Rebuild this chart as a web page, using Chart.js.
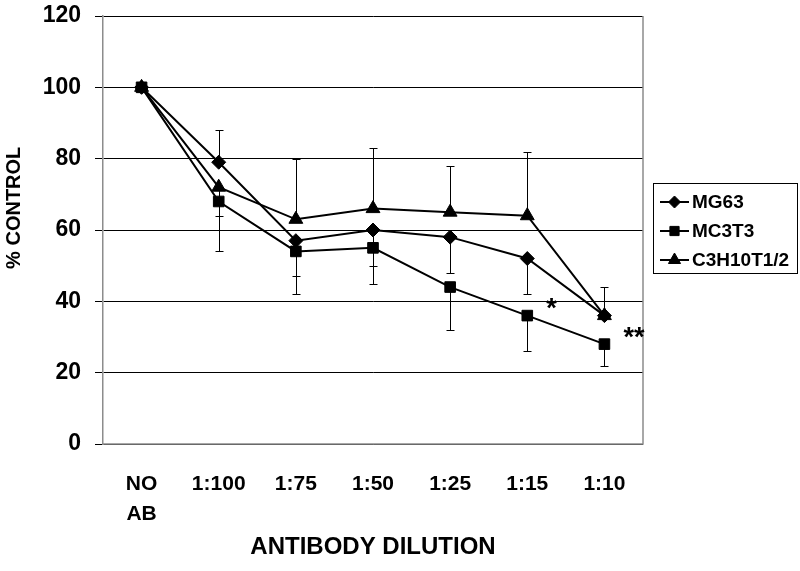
<!DOCTYPE html>
<html lang="en">
<head>
    <meta charset="UTF-8">
    <title>% Control vs Antibody Dilution</title>
    <script src="https://cdn.jsdelivr.net/npm/chart.js@4"></script>
    <style>
        html, body { margin: 0; padding: 0; background: #fff; }
        #wrap { width: 800px; height: 571px; }
    </style>
</head>
<body>
    <div id="wrap"><canvas id="myChart" width="800" height="571"></canvas></div>
    <script>
        const FONT = '"Liberation Sans", Arial, sans-serif';

        // data
        const dilutions = [['NO', 'AB'], '1:100', '1:75', '1:50', '1:25', '1:15', '1:10'];
        const seriesNames = ['MG63', 'MC3T3', 'C3H10T1/2'];
        const mg63 = [100, 79, 57, 60, 58, 52, 36];
        const mc3t3 = [100, 68, 54, 55, 44, 36, 28];
        const c3h10 = [100, 72, 63, 66, 65, 64, 36];
        // end of each error bar (value), one direction only as drawn
        const mg63Err = [null, 88, 47, 50, 48, 42, null];
        const mc3t3Err = [null, 54, 42, 45, 32, 26, 22];
        const c3h10Err = [null, 64, 80, 83, 78, 82, 44];
        const yTicks = [0, 20, 40, 60, 80, 100, 120];
        // significance marks: [category index, text] next to MC3T3 point
        const marks = [[5, '*'], [6, '**']];

        const ctx = document.getElementById('myChart').getContext('2d');

        function ds(label, data, err, shape, radius) {
            return {
                label: label,
                data: data,
                errEnd: err,
                borderColor: '#000',
                backgroundColor: '#000',
                borderWidth: 2,
                pointStyle: shape,
                pointRadius: radius,
                pointHoverRadius: radius,
                pointBorderWidth: 1,
                tension: 0
            };
        }

        // error bars behind the lines
        const errorBars = {
            id: 'errorBars',
            beforeDatasetsDraw(chart) {
                const c = chart.ctx, xs = chart.scales.x, ys = chart.scales.y;
                c.save();
                c.strokeStyle = '#000';
                c.lineWidth = 1;
                chart.data.datasets.forEach(d => {
                    d.errEnd.forEach((e, i) => {
                        if (e === null) return;
                        const x = Math.round(xs.getPixelForValue(i)) + 0.5;
                        const y0 = ys.getPixelForValue(d.data[i]);
                        const y1 = Math.round(ys.getPixelForValue(e)) + 0.5;
                        c.beginPath();
                        c.moveTo(x, y0); c.lineTo(x, y1);
                        c.moveTo(x - 4, y1); c.lineTo(x + 4, y1);
                        c.stroke();
                    });
                });
                c.restore();
            },
            afterDatasetsDraw(chart) {
                const c = chart.ctx, xs = chart.scales.x, ys = chart.scales.y;
                const a = chart.chartArea;
                c.save();
                // plot area frame (right + bottom)
                c.strokeStyle = '#8c8c8c';
                c.lineWidth = 1.5;
                c.beginPath();
                c.moveTo(a.right, a.top); c.lineTo(a.right, a.bottom); c.lineTo(a.left, a.bottom);
                c.stroke();
                // asterisks
                c.fillStyle = '#000';
                c.font = 'bold 27px ' + FONT;
                c.textBaseline = 'middle';
                marks.forEach(([i, t]) => {
                    const x = xs.getPixelForValue(i) + 19;
                    const y = ys.getPixelForValue(mc3t3[i]) - 6;
                    c.fillText(t, x, y);
                });
                c.restore();
            }
        };

        // legend box drawn by hand to get line+marker samples
        const boxLegend = {
            id: 'boxLegend',
            afterDraw(chart) {
                const c = chart.ctx;
                const bx = 653.5, by = 183.5, bw = 144, bh = 90;
                c.save();
                c.fillStyle = '#fff';
                c.fillRect(bx, by, bw, bh);
                c.strokeStyle = '#000';
                c.lineWidth = 1;
                c.strokeRect(bx, by, bw, bh);
                chart.data.datasets.forEach((d, k) => {
                    const y = 202 + k * 29;
                    c.strokeStyle = '#000';
                    c.fillStyle = '#000';
                    c.lineWidth = 2;
                    c.beginPath();
                    c.moveTo(660, y); c.lineTo(689, y);
                    c.stroke();
                    c.lineWidth = 1;
                    Chart.helpers.drawPoint(c, {
                        pointStyle: d.pointStyle, radius: d.pointRadius - 1,
                        borderWidth: 1
                    }, 674.5, y);
                    c.font = 'bold 19px ' + FONT;
                    c.textBaseline = 'middle';
                    c.fillText(d.label, 692, y + 1);
                });
                c.restore();
            }
        };

        Chart.defaults.font.family = FONT;
        Chart.defaults.color = '#000';

        new Chart(ctx, {
            type: 'line',
            data: {
                labels: dilutions,
                datasets: [
                    ds(seriesNames[0], mg63, mg63Err, 'rectRot', 7),
                    ds(seriesNames[1], mc3t3, mc3t3Err, 'rect', 7.5),
                    ds(seriesNames[2], c3h10, c3h10Err, 'triangle', 8)
                ]
            },
            options: {
                responsive: false,
                animation: false,
                layout: { padding: { left: 0, right: 157, top: 16, bottom: 0 } },
                plugins: {
                    legend: { display: false },
                    tooltip: { enabled: false }
                },
                scales: {
                    x: {
                        type: 'category',
                        offset: true,
                        grid: { display: false, drawTicks: false },
                        border: { display: false },
                        ticks: {
                            font: { size: 21, weight: 'bold', lineHeight: 1.4 },
                            padding: 26,
                            maxRotation: 0,
                            autoSkip: false
                        },
                        title: {
                            display: true,
                            text: 'ANTIBODY DILUTION',
                            font: { size: 24, weight: 'bold' },
                            padding: { top: 0, bottom: 9 }
                        },
                        afterFit(s) {
                            s.height = 127;
                            s.paddingLeft = 0;
                            s.paddingRight = 0;
                        }
                    },
                    y: {
                        min: 0,
                        max: 120,
                        afterBuildTicks(s) { s.ticks = yTicks.map(v => ({ value: v })); },
                        grid: { color: '#000', lineWidth: 1, tickLength: 8, tickColor: '#000' },
                        border: { display: true, color: '#8c8c8c', width: 1.5 },
                        ticks: {
                            font: { size: 23, weight: 'bold' },
                            padding: 14
                        },
                        title: {
                            display: true,
                            // leading spaces lift the rotated title above the axis centre, as in the original
                            text: '        % CONTROL',
                            font: { size: 20, weight: 'bold' },
                            padding: { top: 2, bottom: 0 }
                        },
                        afterFit(s) {
                            s.width = 103;
                            s.paddingTop = 0;
                            s.paddingBottom = 0;
                        }
                    }
                }
            },
            plugins: [errorBars, boxLegend]
        });
    </script>
</body>
</html>
